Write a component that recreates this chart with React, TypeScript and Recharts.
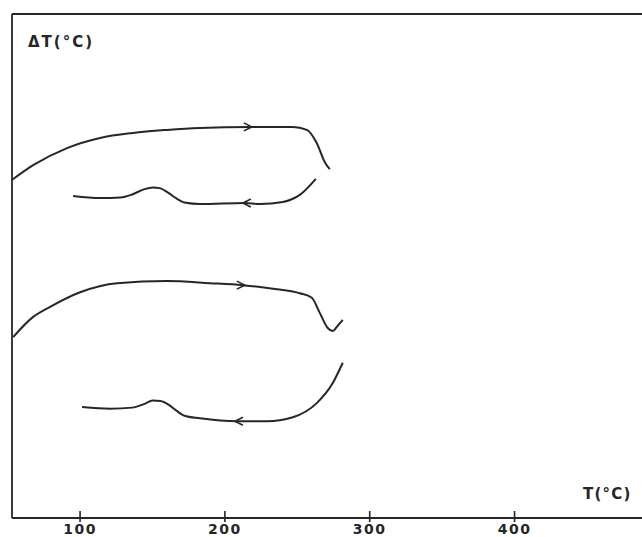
import React from 'react';
import { ComposedChart, Line, Scatter, XAxis, YAxis, ReferenceLine } from 'recharts';

// temperature ticks on the T axis
const tempTicks = [100, 200, 300, 400];

// ΔT values are in arbitrary chart units (0 = baseline, 100 = top frame)
const heatingUpper = [
  { t: 53.1, dt: 67.1 },
  { t: 67.6, dt: 70.0 },
  { t: 91.0, dt: 73.4 },
  { t: 113.8, dt: 75.4 },
  { t: 136.6, dt: 76.4 },
  { t: 160.0, dt: 77.0 },
  { t: 182.8, dt: 77.4 },
  { t: 217.2, dt: 77.6 },
  { t: 246.9, dt: 77.6 },
  { t: 256.6, dt: 77.0 },
  { t: 263.4, dt: 74.4 },
  { t: 269.0, dt: 70.6 },
  { t: 272.4, dt: 69.2 },
];

const coolingUpper = [
  { t: 262.8, dt: 67.3 },
  { t: 251.7, dt: 64.1 },
  { t: 240.0, dt: 62.7 },
  { t: 224.1, dt: 62.3 },
  { t: 213.8, dt: 62.5 },
  { t: 182.8, dt: 62.3 },
  { t: 172.0, dt: 62.6 },
  { t: 166.5, dt: 63.4 },
  { t: 161.0, dt: 64.5 },
  { t: 155.5, dt: 65.4 },
  { t: 150.3, dt: 65.6 },
  { t: 144.0, dt: 65.2 },
  { t: 136.0, dt: 64.2 },
  { t: 128.0, dt: 63.6 },
  { t: 113.8, dt: 63.5 },
  { t: 95.2, dt: 63.9 },
];

const heatingLower = [
  { t: 53.8, dt: 35.9 },
  { t: 67.6, dt: 39.9 },
  { t: 79.3, dt: 41.9 },
  { t: 100.0, dt: 44.8 },
  { t: 125.5, dt: 46.6 },
  { t: 160.0, dt: 47.0 },
  { t: 189.7, dt: 46.6 },
  { t: 212.4, dt: 46.2 },
  { t: 235.9, dt: 45.4 },
  { t: 251.7, dt: 44.6 },
  { t: 260.0, dt: 43.7 },
  { t: 265.5, dt: 40.7 },
  { t: 271.0, dt: 37.7 },
  { t: 274.5, dt: 37.1 },
  { t: 277.2, dt: 37.9 },
  { t: 281.4, dt: 39.3 },
];

const coolingLower = [
  { t: 281.4, dt: 30.8 },
  { t: 274.5, dt: 26.8 },
  { t: 263.4, dt: 22.8 },
  { t: 246.9, dt: 20.0 },
  { t: 229.0, dt: 19.2 },
  { t: 208.3, dt: 19.2 },
  { t: 182.8, dt: 19.8 },
  { t: 172.0, dt: 20.3 },
  { t: 166.5, dt: 21.3 },
  { t: 161.0, dt: 22.5 },
  { t: 155.5, dt: 23.2 },
  { t: 150.3, dt: 23.3 },
  { t: 144.0, dt: 22.6 },
  { t: 136.0, dt: 21.9 },
  { t: 120.7, dt: 21.7 },
  { t: 101.4, dt: 22.0 },
];

// direction arrows drawn on the curves
const arrowsRight = [
  { t: 217.2, dt: 77.6 },
  { t: 212.4, dt: 46.2 },
];
const arrowsLeft = [
  { t: 213.8, dt: 62.5 },
  { t: 208.3, dt: 19.2 },
];

const INK = '#262626';
const FONT = "'DejaVu Sans', sans-serif";

const ArrowRight = (props: any) => {
  const { cx, cy } = props;
  return <path d={`M${cx - 6},${cy - 4} L${cx + 2},${cy} L${cx - 6},${cy + 4}`} fill="none" stroke={INK} strokeWidth={1.6} />;
};

const ArrowLeft = (props: any) => {
  const { cx, cy } = props;
  return <path d={`M${cx + 6},${cy - 4} L${cx - 2},${cy} L${cx + 6},${cy + 4}`} fill="none" stroke={INK} strokeWidth={1.6} />;
};

const TempTick = (props: any) => {
  const { x, y, payload } = props;
  return (
    <g>
      <line x1={x} x2={x} y1={y - 7} y2={y + 4} stroke={INK} strokeWidth={1.6} />
      <text x={x} y={y + 16} textAnchor="middle" fontFamily={FONT} fontSize={14} fontWeight={600} letterSpacing={1.5} fill={INK}>
        {payload.value}
      </text>
    </g>
  );
};

export default function App() {
  return (
    <div style={{ position: 'absolute', left: 0, top: 0, width: 642, height: 537, background: '#fff' }}>
      <ComposedChart width={642} height={537} margin={{ top: 14, right: 0, bottom: 0, left: 12 }}>
        <XAxis
          type="number"
          dataKey="t"
          domain={[53, 488]}
          ticks={tempTicks}
          allowDataOverflow
          height={19}
          tickSize={0}
          tickMargin={0}
          tickLine={false}
          axisLine={{ stroke: INK, strokeWidth: 1.8 }}
          tick={<TempTick />}
        />
        <YAxis type="number" dataKey="dt" domain={[0, 100]} hide />
        <ReferenceLine y={100} stroke={INK} strokeWidth={1.8} />
        <ReferenceLine x={53} stroke={INK} strokeWidth={1.8} />
        <Line data={heatingUpper} dataKey="dt" type="monotone" stroke={INK} strokeWidth={2} dot={false} isAnimationActive={false} />
        <Line data={coolingUpper} dataKey="dt" type="monotone" stroke={INK} strokeWidth={2} dot={false} isAnimationActive={false} />
        <Line data={heatingLower} dataKey="dt" type="monotone" stroke={INK} strokeWidth={2} dot={false} isAnimationActive={false} />
        <Line data={coolingLower} dataKey="dt" type="monotone" stroke={INK} strokeWidth={2} dot={false} isAnimationActive={false} />
        <Scatter data={arrowsRight} dataKey="dt" shape={<ArrowRight />} isAnimationActive={false} />
        <Scatter data={arrowsLeft} dataKey="dt" shape={<ArrowLeft />} isAnimationActive={false} />
      </ComposedChart>
      <span style={{ position: 'absolute', left: 28, top: 33, fontFamily: FONT, fontSize: 15, fontWeight: 600, letterSpacing: 2, color: INK, lineHeight: '18px' }}>
        ΔT(°C)
      </span>
      <span style={{ position: 'absolute', left: 583, top: 485, fontFamily: FONT, fontSize: 15, fontWeight: 600, letterSpacing: 1.2, color: INK, lineHeight: '18px' }}>
        T(°C)
      </span>
    </div>
  );
}
